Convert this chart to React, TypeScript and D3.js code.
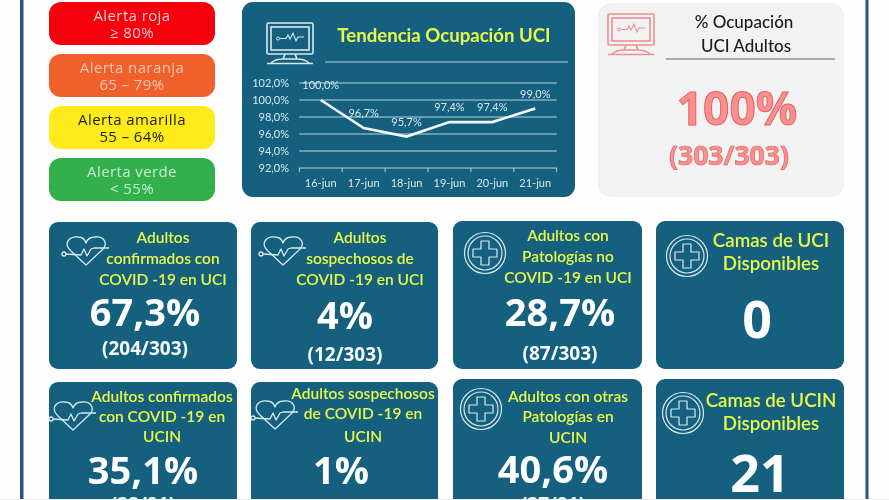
// @ts-nocheck
import React from 'react'
import * as d3 from 'd3'

const days = ['16-jun', '17-jun', '18-jun', '19-jun', '20-jun', '21-jun']
const occupancy = [100.0, 96.7, 95.7, 97.4, 97.4, 99.0]
const yTicks = [92, 94, 96, 98, 100, 102]

const alertNames = ['Alerta roja', 'Alerta naranja', 'Alerta amarilla', 'Alerta verde']
const alertRanges = ['≥ 80%', '65 – 79%', '55 – 64%', '< 55%']

const cardTitles = [
  ['Adultos', 'confirmados con', 'COVID -19 en UCI'],
  ['Adultos', 'sospechosos de', 'COVID -19 en UCI'],
  ['Adultos con', 'Patologías no', 'COVID -19 en UCI'],
  ['Camas de UCI', 'Disponibles'],
  ['Adultos confirmados', 'con COVID -19 en', 'UCIN'],
  ['Adultos sospechosos', 'de COVID -19 en', 'UCIN'],
  ['Adultos con otras', 'Patologías en', 'UCIN'],
  ['Camas de UCIN', 'Disponibles'],
]
const cardValues = ['67,3%', '4%', '28,7%', '0', '35,1%', '1%', '40,6%', '21']
const cardCounts = ['(204/303)', '(12/303)', '(87/303)', '', '(32/91)', '', '(37/91)', '']

// layout of the cards, not data
const cardBoxes = [
  { x: 49, y: 222, w: 188, h: 147, tx: 163, ty: [243, 264, 285], vx: 145, vy: 326, cy: 355, icon: 'heart', ix: 86, iy: 248 },
  { x: 251, y: 222, w: 187, h: 147, tx: 360, ty: [243, 264, 285], vx: 345, vy: 329, cy: 361, icon: 'heart', ix: 283, iy: 248 },
  { x: 453, y: 221, w: 189, h: 148, tx: 568, ty: [241, 262, 283], vx: 560, vy: 326, cy: 360, icon: 'cross', ix: 485, iy: 253 },
  { x: 656, y: 221, w: 188, h: 148, tx: 771, ty: [247, 270], vx: 757, vy: 338, cy: 0, icon: 'cross', ix: 687, iy: 256, big: true },
  { x: 49, y: 382, w: 188, h: 140, tx: 162, ty: [402, 422, 442], vx: 143, vy: 484, cy: 511, icon: 'heart', ix: 73, iy: 413 },
  { x: 251, y: 382, w: 187, h: 140, tx: 363, ty: [399, 419, 442], vx: 341, vy: 484, cy: 0, icon: 'heart', ix: 275, iy: 412 },
  { x: 453, y: 379, w: 189, h: 143, tx: 568, ty: [402, 422, 443], vx: 553, vy: 483, cy: 511, icon: 'cross', ix: 481, iy: 409 },
  { x: 656, y: 379, w: 188, h: 143, tx: 771, ty: [407, 430], vx: 760, vy: 492, cy: 0, icon: 'cross', ix: 683, iy: 413, big: true },
]

const alertFill = ['#f5000f', '#f0602c', '#ffea1c', '#30b04b']
const alertText = ['#f9c9c9', '#f9c8b0', '#1e1e10', '#c9eed3']
const teal = '#14607f'
const yellow = '#e9f84a'
const pale = '#d8e9ef'
const TITLE_FONT = 'Lato, sans-serif'
const NUM_FONT = '"Open Sans", sans-serif'

const comma = d3.formatLocale({ decimal: ',', thousands: '.', grouping: [3], currency: ['', ''] }).format('.1f')

const Heart = ({ x, y }) => (
  <g transform={`translate(${x}, ${y})`} fill="none" stroke={pale} strokeWidth="1.3" strokeLinejoin="round">
    <path d="M0,17 L-15,3 C-24,-6 -15,-12 -8,-11 C-4,-11 -1,-8 0,-5 C1,-8 4,-11 9,-11 C17,-12 24,-5 15,3 Z" fill={teal} />
    <path d="M-20,6 L-5,7 L-2,1 L1,8 L5,1 L8,0 L23,0" />
    <circle cx="-22" cy="6" r="2" />
  </g>
)

const Cross = ({ x, y }) => (
  <g transform={`translate(${x}, ${y})`} fill="none" stroke={pale} strokeWidth="1.2">
    <circle r="20.5" />
    <circle r="17" />
    <path d="M-4,-12 H4 V-4 H12 V4 H4 V12 H-4 V4 H-12 V-4 H-4 Z" strokeLinejoin="round" />
  </g>
)

const Monitor = ({ x, y, color, pulse }) => (
  <g transform={`translate(${x}, ${y})`} fill="none" stroke={color} strokeWidth="1.6">
    <rect x="0" y="0" width="46" height="31" rx="1.5" />
    <rect x="4" y="4" width="38" height="23" />
    <path d="M18,31 L16,36 C10,36 6,38 4,40 M28,31 L30,36 C36,36 40,38 42,40 M16,36 H30 M0,40.5 H46" />
    <circle cx="11" cy="15.5" r="1.5" strokeWidth="1" />
    <path d={pulse} strokeWidth="1.1" />
  </g>
)

const MONITOR_PULSE = 'M13,15.5 H19 L21,12 L23,16 L26,10 L29,18 L31,14 H37'

const TrendChart = () => {
  const x = d3.scaleBand().domain(days).range([299.3, 556.7])
  const y = d3.scaleLinear().domain([92, 102]).range([168, 83])
  const line = d3
    .line()
    .x((d, i) => x(days[i]) + x.bandwidth() / 2)
    .y((d) => y(d))

  return (
    <g fontFamily={TITLE_FONT}>
      {yTicks.map((t) => (
        <g key={t}>
          <line x1={x.range()[0]} x2={x.range()[1]} y1={y(t)} y2={y(t)} stroke="#bcd3dd" strokeWidth="1" />
          <text x={289} y={y(t) + 4} textAnchor="end" fontSize="11" fill={pale}>
            {comma(t)}%
          </text>
        </g>
      ))}
      {[...days.map((d) => x(d)), x.range()[1]].map((p, i) => (
        <line key={i} x1={p} x2={p} y1={168} y2={172} stroke="#bcd3dd" />
      ))}
      {days.map((d) => (
        <text key={d} x={x(d) + x.bandwidth() / 2} y={187} textAnchor="middle" fontSize="11" fill={pale}>
          {d}
        </text>
      ))}
      <path d={line(occupancy)} fill="none" stroke="#f2f7f9" strokeWidth="2.6" />
      {occupancy.map((v, i) => (
        <text key={i} x={x(days[i]) + x.bandwidth() / 2} y={y(v) - 11} textAnchor="middle" fontSize="11" fill={pale}>
          {comma(v)}%
        </text>
      ))}
    </g>
  )
}

const Card = ({ i }) => {
  const b = cardBoxes[i]
  return (
    <g>
      <rect x={b.x} y={b.y} width={b.w} height={b.h} rx="9" fill={teal} />
      {b.icon === 'heart' ? <Heart x={b.ix} y={b.iy} /> : <Cross x={b.ix} y={b.iy} />}
      {cardTitles[i].map((t, j) => (
        <text
          key={j}
          x={b.tx}
          y={b.ty[j]}
          textAnchor="middle"
          fontFamily={TITLE_FONT}
          fontWeight="600"
          fontSize={b.big ? 18.7 : 15.5}
          fill={yellow}
        >
          {t}
        </text>
      ))}
      <text x={b.vx} y={b.vy} textAnchor="middle" fontFamily={NUM_FONT} fontWeight="700" fontSize={b.big ? 52 : 38} fill="#fff">
        {cardValues[i]}
      </text>
      {cardCounts[i] && (
        <text x={b.vx} y={b.cy} textAnchor="middle" fontFamily={NUM_FONT} fontWeight="700" fontSize="19" fill="#f4f9fb">
          {cardCounts[i]}
        </text>
      )}
    </g>
  )
}

export default function App() {
  return (
    <svg width={889} height={500} style={{ position: 'absolute', left: 0, top: 0 }}>
      <defs>
        <filter id="soft" x="0" y="0" width="100%" height="100%">
          <feGaussianBlur stdDeviation="0.35" />
        </filter>
      </defs>
      <g filter="url(#soft)">
        <rect width={889} height={500} fill="#fefefe" />
        <rect x={20} y={0} width={3.5} height={500} fill="#2b5384" />
        <rect x={865.5} y={0} width={3} height={500} fill="#2b5384" />

        {alertNames.map((name, i) => {
          const top = 2 + i * 52
          return (
            <g key={name} fontFamily={'"Open Sans", sans-serif'} fontSize="15" letterSpacing="0.4" textAnchor="middle" fill={alertText[i]}>
              <rect x={49} y={top} width={166} height={43} rx="12" fill={alertFill[i]} />
              <text x={132} y={top + 19}>{name}</text>
              <text x={132} y={top + 35.5}>{alertRanges[i]}</text>
            </g>
          )
        })}

        <rect x={242} y={2} width={333} height={195} rx="11" fill={teal} />
        <Monitor x={267} y={23} color={pale} pulse={MONITOR_PULSE} />
        <text x={444} y={42} textAnchor="middle" fontFamily={TITLE_FONT} fontWeight="700" fontSize="18.6" fill={yellow}>
          Tendencia Ocupación UCI
        </text>
        <line x1={325} x2={568} y1={62} y2={62} stroke="#bcd3dd" />
        <TrendChart />

        <rect x={598} y={3} width={246} height={194} rx="13" fill="#f2f2f2" />
        <Monitor x={608} y={14} color="#ec8f8f" pulse={MONITOR_PULSE} />
        <text x={744} y={28} textAnchor="middle" fontFamily={TITLE_FONT} fontWeight="500" fontSize="17" fill="#1a1a1a">
          % Ocupación
        </text>
        <text x={746} y={52} textAnchor="middle" fontFamily={TITLE_FONT} fontWeight="500" fontSize="17" fill="#1a1a1a">
          UCI Adultos
        </text>
        <line x1={666} x2={835} y1={59} y2={59} stroke="#666" />
        <text x={737} y={125} textAnchor="middle" fontFamily={NUM_FONT} fontWeight="700" fontSize="46" fill="#ff8e8e" stroke="#dc6464" strokeWidth="1">
          100%
        </text>
        <text x={729} y={165} textAnchor="middle" fontFamily={NUM_FONT} fontWeight="700" fontSize="26.5" fill="#ff8e8e" stroke="#dc6464" strokeWidth="0.7">
          (303/303)
        </text>

        {cardBoxes.map((b, i) => (
          <Card key={i} i={i} />
        ))}
        <rect x={0} y={499} width={889} height={1} fill="#eeeeee" />
      </g>
    </svg>
  )
}
